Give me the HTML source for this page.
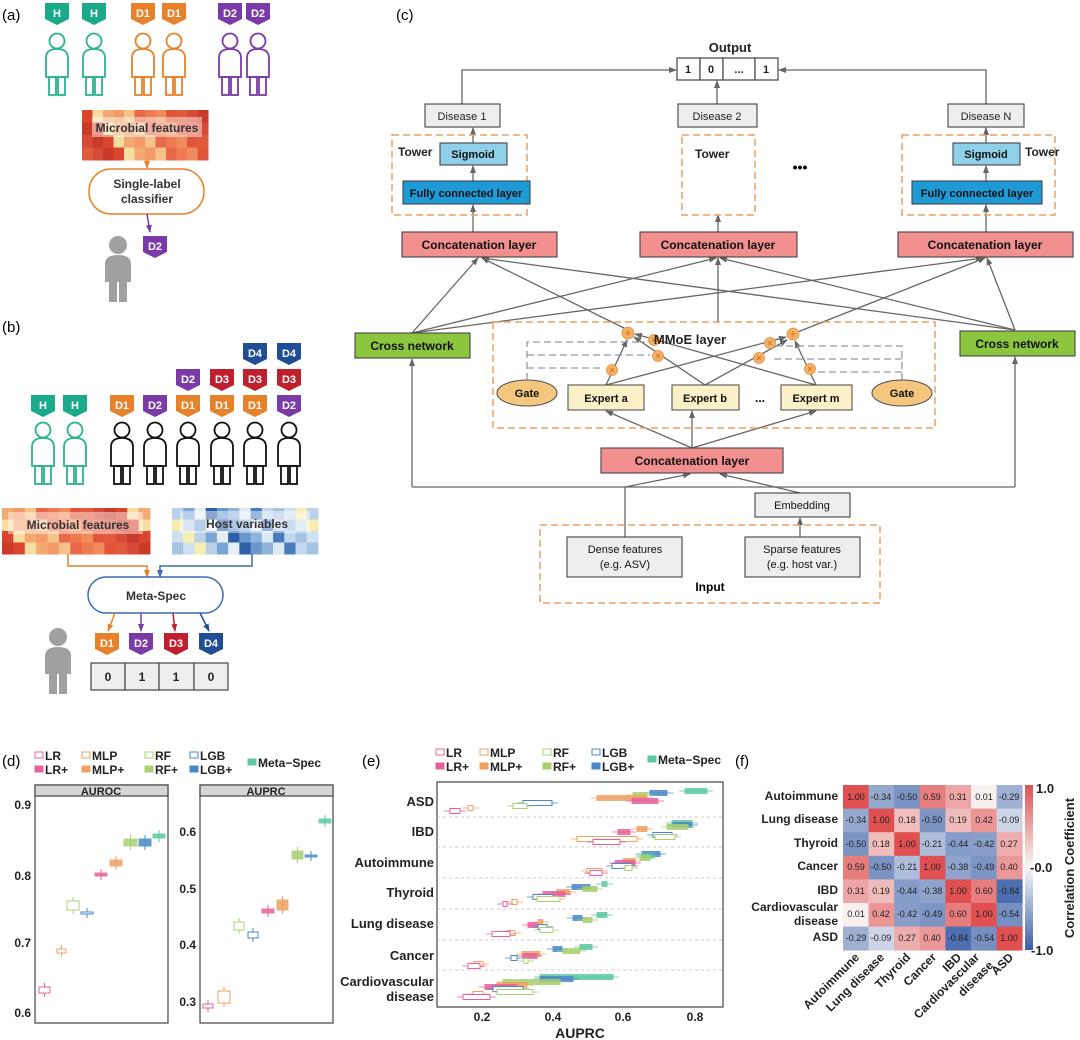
<!DOCTYPE html>
<html><head><meta charset="utf-8"><style>
html,body{margin:0;padding:0;background:#fff}
svg{display:block}
text{font-family:"Liberation Sans",sans-serif}
.b{font-weight:bold}
</style></head><body>
<svg id="s" width="1080" height="1040" viewBox="0 0 1080 1040" xmlns="http://www.w3.org/2000/svg">
<defs>
<path id="tag" d="M0,0H24V16L12,22L0,16Z"/>
<g id="per" fill="none" stroke-width="1.8"><circle cx="0" cy="8" r="7.5"/><path d="M-11,44V25Q-11,16 0,16Q11,16 11,25V44Z"/><rect x="-8" y="44" width="7" height="18"/><rect x="1" y="44" width="7" height="18"/></g>
<g id="gper" fill="#a0a0a0"><circle cx="0" cy="9" r="9"/><path d="M-13,46V28Q-13,19 0,19Q13,19 13,28V46Z"/><rect x="-9" y="46" width="8" height="20"/><rect x="1" y="46" width="8" height="20"/></g>
<marker id="ar" markerWidth="8" markerHeight="8" refX="7" refY="4" orient="auto" markerUnits="userSpaceOnUse"><path d="M0,1L8,4L0,7Z" fill="#666"/></marker>
<marker id="ao" markerWidth="8" markerHeight="8" refX="7" refY="4" orient="auto" markerUnits="userSpaceOnUse"><path d="M0,1L8,4L0,7Z" fill="#e8822a"/></marker>
<marker id="ab" markerWidth="8" markerHeight="8" refX="7" refY="4" orient="auto" markerUnits="userSpaceOnUse"><path d="M0,1L8,4L0,7Z" fill="#3a6bb0"/></marker>
<marker id="ap" markerWidth="8" markerHeight="8" refX="7" refY="4" orient="auto" markerUnits="userSpaceOnUse"><path d="M0,1L8,4L0,7Z" fill="#7a3aa8"/></marker>
<marker id="ard" markerWidth="8" markerHeight="8" refX="7" refY="4" orient="auto" markerUnits="userSpaceOnUse"><path d="M0,1L8,4L0,7Z" fill="#c0202e"/></marker>
<marker id="abl" markerWidth="8" markerHeight="8" refX="7" refY="4" orient="auto" markerUnits="userSpaceOnUse"><path d="M0,1L8,4L0,7Z" fill="#1f4e96"/></marker>
</defs>

<!-- (a) -->
<text x="2" y="20" font-size="15">(a)</text>
<g font-size="11" class="b" fill="#fff" text-anchor="middle">
<use href="#tag" x="45" y="3" fill="#1aaa8a"/><text x="57" y="17">H</text>
<use href="#tag" x="82" y="3" fill="#1aaa8a"/><text x="94" y="17">H</text>
<use href="#tag" x="131" y="3" fill="#e8822a"/><text x="143" y="17">D1</text>
<use href="#tag" x="162" y="3" fill="#e8822a"/><text x="174" y="17">D1</text>
<use href="#tag" x="218" y="3" fill="#7a3aa8"/><text x="230" y="17">D2</text>
<use href="#tag" x="246" y="3" fill="#7a3aa8"/><text x="258" y="17">D2</text>
</g>
<use href="#per" x="57" y="33" stroke="#2bb391"/><use href="#per" x="94" y="33" stroke="#2bb391"/>
<use href="#per" x="143" y="33" stroke="#e8822a"/><use href="#per" x="174" y="33" stroke="#e8822a"/>
<use href="#per" x="230" y="33" stroke="#7a3aa8"/><use href="#per" x="258" y="33" stroke="#7a3aa8"/>
<g id="hmA"></g>
<rect x="92" y="117" width="110" height="20" fill="#fff" opacity="0.45"/>
<text x="147" y="132" font-size="12" class="b" text-anchor="middle" fill="#333">Microbial features</text>
<line x1="147" y1="160" x2="147" y2="168" stroke="#e8822a" stroke-width="1.5" marker-end="url(#ao)"/>
<rect x="89" y="169" width="115" height="45" rx="22" fill="#fff" stroke="#e8822a" stroke-width="1.5"/>
<text x="147" y="188" font-size="12" class="b" text-anchor="middle" fill="#333">Single-label</text>
<text x="147" y="203" font-size="12" class="b" text-anchor="middle" fill="#333">classifier</text>
<line x1="147" y1="214" x2="150" y2="232" stroke="#7a3aa8" stroke-width="1.5" marker-end="url(#ap)"/>
<use href="#tag" x="143" y="236" fill="#7a3aa8"/><text x="155" y="250" font-size="11" class="b" fill="#fff" text-anchor="middle">D2</text>
<use href="#gper" x="118" y="236"/>

<!-- (b) -->
<text x="2" y="332" font-size="15">(b)</text>
<g font-size="11" class="b" fill="#fff" text-anchor="middle">
<use href="#tag" x="243" y="343" fill="#1f4e96"/><text x="255" y="357">D4</text>
<use href="#tag" x="277" y="343" fill="#1f4e96"/><text x="289" y="357">D4</text>
<use href="#tag" x="176" y="369" fill="#7a3aa8"/><text x="188" y="383">D2</text>
<use href="#tag" x="210" y="369" fill="#c0202e"/><text x="222" y="383">D3</text>
<use href="#tag" x="243" y="369" fill="#c0202e"/><text x="255" y="383">D3</text>
<use href="#tag" x="277" y="369" fill="#c0202e"/><text x="289" y="383">D3</text>
<use href="#tag" x="31" y="395" fill="#1aaa8a"/><text x="43" y="409">H</text>
<use href="#tag" x="63" y="395" fill="#1aaa8a"/><text x="75" y="409">H</text>
<use href="#tag" x="110" y="395" fill="#e8822a"/><text x="122" y="409">D1</text>
<use href="#tag" x="143" y="395" fill="#7a3aa8"/><text x="155" y="409">D2</text>
<use href="#tag" x="176" y="395" fill="#e8822a"/><text x="188" y="409">D1</text>
<use href="#tag" x="210" y="395" fill="#e8822a"/><text x="222" y="409">D1</text>
<use href="#tag" x="243" y="395" fill="#e8822a"/><text x="255" y="409">D1</text>
<use href="#tag" x="277" y="395" fill="#7a3aa8"/><text x="289" y="409">D2</text>
</g>
<use href="#per" x="43" y="422" stroke="#2bb391"/><use href="#per" x="75" y="422" stroke="#2bb391"/>
<use href="#per" x="122" y="422" stroke="#111"/><use href="#per" x="155" y="422" stroke="#111"/>
<use href="#per" x="188" y="422" stroke="#111"/><use href="#per" x="222" y="422" stroke="#111"/>
<use href="#per" x="255" y="422" stroke="#111"/><use href="#per" x="289" y="422" stroke="#111"/>
<g id="hmB"></g><g id="hmC"></g>
<rect x="8" y="512" width="135" height="22" fill="#fff" opacity="0.45"/>
<text x="78" y="529" font-size="12" class="b" text-anchor="middle" fill="#333">Microbial features</text>
<rect x="180" y="511" width="130" height="22" fill="#fff" opacity="0.45"/>
<text x="247" y="528" font-size="12" class="b" text-anchor="middle" fill="#333">Host variables</text>
<path d="M68,554V566H147V577" fill="none" stroke="#e8822a" stroke-width="1.5" marker-end="url(#ao)"/>
<path d="M252,554V566H160V577" fill="none" stroke="#3a6bb0" stroke-width="1.5" marker-end="url(#ab)"/>
<rect x="88" y="577" width="135" height="36" rx="18" fill="#fff" stroke="#3a6bb0" stroke-width="1.5"/>
<text x="156" y="600" font-size="12" class="b" text-anchor="middle" fill="#333">Meta-Spec</text>
<line x1="115" y1="613" x2="108" y2="631" stroke="#e8822a" stroke-width="1.5" marker-end="url(#ao)"/>
<line x1="141" y1="613" x2="141" y2="631" stroke="#7a3aa8" stroke-width="1.5" marker-end="url(#ap)"/>
<line x1="173" y1="613" x2="175" y2="631" stroke="#c0202e" stroke-width="1.5" marker-end="url(#ard)"/>
<line x1="200" y1="613" x2="209" y2="631" stroke="#1f4e96" stroke-width="1.5" marker-end="url(#abl)"/>
<g font-size="11" class="b" fill="#fff" text-anchor="middle">
<use href="#tag" x="95" y="633" fill="#e8822a"/><text x="107" y="647">D1</text>
<use href="#tag" x="129" y="633" fill="#7a3aa8"/><text x="141" y="647">D2</text>
<use href="#tag" x="164" y="633" fill="#c0202e"/><text x="176" y="647">D3</text>
<use href="#tag" x="199" y="633" fill="#1f4e96"/><text x="211" y="647">D4</text>
</g>
<g fill="#eee" stroke="#444" stroke-width="1.2"><rect x="91" y="663" width="34" height="27"/><rect x="125" y="663" width="34" height="27"/><rect x="159" y="663" width="35" height="27"/><rect x="194" y="663" width="34" height="27"/></g>
<g font-size="12" class="b" text-anchor="middle" fill="#222"><text x="108" y="681">0</text><text x="142" y="681">1</text><text x="176" y="681">1</text><text x="211" y="681">0</text></g>
<use href="#gper" x="58" y="628"/>

<!-- (c) -->
<text x="396" y="20" font-size="15">(c)</text>
<g stroke="#666" stroke-width="1.3" fill="none">
<path d="M462,104V70H676" marker-end="url(#ar)"/>
<path d="M986,104V70H779" marker-end="url(#ar)"/>
<path d="M717,104V81" marker-end="url(#ar)"/>
<path d="M473,143V128" marker-end="url(#ar)"/>
<path d="M986,143V128" marker-end="url(#ar)"/>
<path d="M473,181V166" marker-end="url(#ar)"/>
<path d="M986,181V166" marker-end="url(#ar)"/>
<path d="M473,232V205" marker-end="url(#ar)"/>
<path d="M986,232V205" marker-end="url(#ar)"/>
<path d="M718,232V215" marker-end="url(#ar)"/>
<path d="M412,333L478,258" marker-end="url(#ar)"/>
<path d="M412,333L716,258" marker-end="url(#ar)"/>
<path d="M412,333L983,258" marker-end="url(#ar)"/>
<path d="M1015,330L482,258" marker-end="url(#ar)"/>
<path d="M1015,330L720,258" marker-end="url(#ar)"/>
<path d="M1015,330L987,258" marker-end="url(#ar)"/>
<path d="M628,330L482,258" marker-end="url(#ar)"/>
<path d="M718,322V258" marker-end="url(#ar)"/>
<path d="M795,333L985,258" marker-end="url(#ar)"/>
<path d="M412,487V359" marker-end="url(#ar)"/>
<path d="M1015,487V357" marker-end="url(#ar)"/>
<path d="M412,487H1015"/>
<path d="M625,537V487"/>
<path d="M625,487L690,474" marker-end="url(#ar)"/>
<path d="M800,537V518" marker-end="url(#ar)"/>
<path d="M800,493L720,474" marker-end="url(#ar)"/>
<path d="M692,448L606,411" marker-end="url(#ar)"/>
<path d="M692,448V411" marker-end="url(#ar)"/>
<path d="M692,448L816,411" marker-end="url(#ar)"/>
<path d="M606,385L627,340" marker-end="url(#ar)"/>
<path d="M705,385L634,337" marker-end="url(#ar)"/>
<path d="M816,385L635,334" marker-end="url(#ar)"/>
<path d="M606,385L786,337" marker-end="url(#ar)"/>
<path d="M705,385L787,340" marker-end="url(#ar)"/>
<path d="M816,385L795,341" marker-end="url(#ar)"/>
</g>
<g stroke="#999" stroke-width="1.3" fill="none" stroke-dasharray="7,4">
<path d="M527,380V342H645"/><path d="M527,355H650"/><path d="M527,368H604"/>
<path d="M902,380V346H775"/><path d="M902,359H770"/><path d="M902,372H818"/>
</g>
<g stroke="#e8a060" stroke-width="1.5" fill="none" stroke-dasharray="7,4">
<rect x="392" y="135" width="135" height="80"/><rect x="682" y="135" width="73" height="80"/><rect x="902" y="135" width="153" height="80"/>
<rect x="493" y="322" width="442" height="106"/><rect x="540" y="525" width="340" height="78"/>
</g>
<g fill="#f5b066" stroke="#e09040" stroke-width="0.8">
<circle cx="628" cy="333" r="6"/><circle cx="793" cy="334" r="6"/>
<circle cx="612" cy="370" r="5.5"/><circle cx="654" cy="340" r="5.5"/><circle cx="658" cy="356" r="5.5"/>
<circle cx="770" cy="343" r="5.5"/><circle cx="759" cy="358" r="5.5"/><circle cx="810" cy="369" r="5.5"/>
</g>
<g stroke="#c07020" stroke-width="0.8"><path d="M625,333h6M628,330v6M790,334h6M793,331v6M610,368l4,4M614,368l-4,4M652,338l4,4M656,338l-4,4M656,354l4,4M660,354l-4,4M768,341l4,4M772,341l-4,4M757,356l4,4M761,356l-4,4M808,367l4,4M812,367l-4,4"/></g>
<text x="730" y="52" font-size="13" class="b" text-anchor="middle" fill="#222">Output</text>
<g fill="#fff" stroke="#444" stroke-width="1.2"><rect x="677" y="58" width="23" height="22"/><rect x="700" y="58" width="23" height="22"/><rect x="723" y="58" width="32" height="22"/><rect x="755" y="58" width="23" height="22"/></g>
<g font-size="11" class="b" text-anchor="middle" fill="#222"><text x="688" y="73">1</text><text x="711" y="73">0</text><text x="739" y="73">...</text><text x="766" y="73">1</text></g>
<g fill="#eee" stroke="#444" stroke-width="1.1"><rect x="425" y="104" width="75" height="23"/><rect x="678" y="104" width="79" height="23"/><rect x="948" y="104" width="76" height="23"/></g>
<g font-size="11" text-anchor="middle" fill="#222"><text x="462" y="120">Disease 1</text><text x="717" y="120">Disease 2</text><text x="986" y="120">Disease N</text></g>
<g font-size="12" class="b" fill="#222"><text x="398" y="156">Tower</text><text x="695" y="158">Tower</text><text x="1025" y="156">Tower</text></g>
<text x="800" y="172" font-size="14" class="b" text-anchor="middle">•••</text>
<g fill="#8fcfe8" stroke="#444" stroke-width="1.1"><rect x="440" y="143" width="67" height="22"/><rect x="953" y="143" width="67" height="22"/></g>
<g fill="#1e9bd7" stroke="#444" stroke-width="1.1"><rect x="403" y="181" width="127" height="23"/><rect x="912" y="181" width="130" height="23"/></g>
<g font-size="11" class="b" text-anchor="middle" fill="#111"><text x="473" y="158">Sigmoid</text><text x="986" y="158">Sigmoid</text><text x="466" y="197">Fully connected layer</text><text x="977" y="197">Fully connected layer</text></g>
<g fill="#f28f8f" stroke="#444" stroke-width="1.1"><rect x="402" y="232" width="155" height="25"/><rect x="640" y="232" width="157" height="25"/><rect x="898" y="232" width="175" height="25"/><rect x="601" y="448" width="182" height="25"/></g>
<g font-size="12" class="b" text-anchor="middle" fill="#111"><text x="479" y="249">Concatenation  layer</text><text x="718" y="249">Concatenation  layer</text><text x="985" y="249">Concatenation  layer</text><text x="692" y="465">Concatenation  layer</text></g>
<g fill="#8cc63f" stroke="#444" stroke-width="1.1"><rect x="355" y="333" width="115" height="25"/><rect x="960" y="331" width="115" height="25"/></g>
<g font-size="12" class="b" text-anchor="middle" fill="#111"><text x="412" y="350">Cross network</text><text x="1017" y="348">Cross network</text></g>
<text x="690" y="344" font-size="13" class="b" text-anchor="middle" fill="#222">MMoE layer</text>
<g fill="#f5c77e" stroke="#555" stroke-width="1.1"><ellipse cx="527" cy="393" rx="30" ry="13"/><ellipse cx="902" cy="393" rx="30" ry="13"/></g>
<g fill="#fbf0c8" stroke="#555" stroke-width="1.1"><rect x="568" y="385" width="76" height="25"/><rect x="672" y="385" width="67" height="25"/><rect x="781" y="385" width="71" height="25"/></g>
<g font-size="11" class="b" text-anchor="middle" fill="#111"><text x="527" y="397">Gate</text><text x="902" y="397">Gate</text><text x="606" y="402">Expert a</text><text x="705" y="402">Expert b</text><text x="816" y="402">Expert m</text></g>
<text x="760" y="402" font-size="12" class="b" text-anchor="middle">...</text>
<g fill="#eee" stroke="#444" stroke-width="1.1"><rect x="755" y="493" width="95" height="24"/><rect x="567" y="537" width="115" height="40"/><rect x="745" y="537" width="115" height="40"/></g>
<g font-size="11" text-anchor="middle" fill="#111"><text x="802" y="509">Embedding</text><text x="625" y="553">Dense features</text><text x="625" y="568">(e.g. ASV)</text><text x="802" y="553">Sparse features</text><text x="802" y="568">(e.g. host var.)</text></g>
<text x="710" y="591" font-size="12" class="b" text-anchor="middle">Input</text>

<!-- (d) -->
<text x="2" y="766" font-size="15">(d)</text>
<g id="legd"></g>
<g font-size="12" class="b" fill="#222">
<text x="45" y="760">LR</text><text x="45" y="774">LR+</text>
<text x="92" y="760">MLP</text><text x="92" y="774">MLP+</text>
<text x="155" y="760">RF</text><text x="155" y="774">RF+</text>
<text x="200" y="760">LGB</text><text x="200" y="774">LGB+</text>
<text x="258" y="767">Meta−Spec</text>
</g>
<rect x="35" y="785" width="133" height="238" fill="#fff" stroke="#444" stroke-width="1.2"/>
<rect x="35" y="785" width="133" height="11" fill="#d6d6d6" stroke="#444" stroke-width="1.2"/>
<rect x="200" y="785" width="133" height="238" fill="#fff" stroke="#444" stroke-width="1.2"/>
<rect x="200" y="785" width="133" height="11" fill="#d6d6d6" stroke="#444" stroke-width="1.2"/>
<g font-size="11" class="b" text-anchor="middle" fill="#222"><text x="101" y="795">AUROC</text><text x="266" y="795">AUPRC</text></g>
<g font-size="12" class="b" text-anchor="end" fill="#222">
<text x="31" y="809">0.9</text><text x="31" y="880">0.8</text><text x="31" y="947">0.7</text><text x="31" y="1017">0.6</text>
<text x="196" y="836">0.6</text><text x="196" y="893">0.5</text><text x="196" y="949">0.4</text><text x="196" y="1006">0.3</text>
</g>
<g id="dbox"></g>

<!-- (e) -->
<text x="362" y="766" font-size="15">(e)</text>
<g font-size="12" class="b" fill="#222">
<text x="446" y="757">LR</text><text x="446" y="771">LR+</text>
<text x="490" y="757">MLP</text><text x="490" y="771">MLP+</text>
<text x="553" y="757">RF</text><text x="553" y="771">RF+</text>
<text x="602" y="757">LGB</text><text x="602" y="771">LGB+</text>
<text x="658" y="764">Meta−Spec</text>
</g>
<rect x="437" y="782" width="286" height="225" fill="#fff" stroke="#444" stroke-width="1.2"/>
<g stroke="#bbb" stroke-dasharray="3,3" stroke-width="0.8"><path d="M437,817H723M437,847H723M437,878H723M437,909H723M437,940H723M437,970H723"/></g>
<g font-size="13" class="b" text-anchor="end" fill="#222">
<text x="434" y="806">ASD</text><text x="434" y="836">IBD</text><text x="434" y="867">Autoimmune</text><text x="434" y="897">Thyroid</text><text x="434" y="928">Lung disease</text><text x="434" y="960">Cancer</text><text x="434" y="986">Cardiovascular</text><text x="434" y="1001">disease</text>
</g>
<g font-size="12" class="b" text-anchor="middle" fill="#222"><text x="482" y="1021">0.2</text><text x="553" y="1021">0.4</text><text x="623" y="1021">0.6</text><text x="695" y="1021">0.8</text></g>
<text x="580" y="1038" font-size="14" class="b" text-anchor="middle" fill="#222">AUPRC</text>
<g id="ebox"></g>

<!-- (f) -->
<text x="735" y="766" font-size="15">(f)</text>
<g id="fcell"></g>
<g font-size="12" class="b" text-anchor="end" fill="#222">
<text x="838" y="800">Autoimmune</text><text x="838" y="823">Lung disease</text><text x="838" y="847">Thyroid</text><text x="838" y="870">Cancer</text><text x="838" y="894">IBD</text><text x="838" y="911">Cardiovascular</text><text x="838" y="925">disease</text><text x="838" y="941">ASD</text>
</g>
<g font-size="9" text-anchor="middle" fill="#222" id="fvals">
<text x="856" y="800">1.00</text><text x="881" y="800">-0.34</text><text x="907" y="800">-0.50</text><text x="932" y="800">0.59</text><text x="958" y="800">0.31</text><text x="984" y="800">0.01</text><text x="1009" y="800">-0.29</text>
<text x="856" y="823">-0.34</text><text x="881" y="823">1.00</text><text x="907" y="823">0.18</text><text x="932" y="823">-0.50</text><text x="958" y="823">0.19</text><text x="984" y="823">0.42</text><text x="1009" y="823">-0.09</text>
<text x="856" y="847">-0.50</text><text x="881" y="847">0.18</text><text x="907" y="847">1.00</text><text x="932" y="847">-0.21</text><text x="958" y="847">-0.44</text><text x="984" y="847">-0.42</text><text x="1009" y="847">0.27</text>
<text x="856" y="870">0.59</text><text x="881" y="870">-0.50</text><text x="907" y="870">-0.21</text><text x="932" y="870">1.00</text><text x="958" y="870">-0.38</text><text x="984" y="870">-0.49</text><text x="1009" y="870">0.40</text>
<text x="856" y="894">0.31</text><text x="881" y="894">0.19</text><text x="907" y="894">-0.44</text><text x="932" y="894">-0.38</text><text x="958" y="894">1.00</text><text x="984" y="894">0.60</text><text x="1009" y="894">-0.84</text>
<text x="856" y="917">0.01</text><text x="881" y="917">0.42</text><text x="907" y="917">-0.42</text><text x="932" y="917">-0.49</text><text x="958" y="917">0.60</text><text x="984" y="917">1.00</text><text x="1009" y="917">-0.54</text>
<text x="856" y="941">-0.29</text><text x="881" y="941">-0.09</text><text x="907" y="941">0.27</text><text x="932" y="941">0.40</text><text x="958" y="941">-0.84</text><text x="984" y="941">-0.54</text><text x="1009" y="941">1.00</text>
</g>
<defs><linearGradient id="cb" x1="0" y1="0" x2="0" y2="1"><stop offset="0" stop-color="#e05050"/><stop offset="0.5" stop-color="#f8f8f8"/><stop offset="1" stop-color="#3a5fa8"/></linearGradient></defs>
<rect x="1025" y="785" width="8" height="165" fill="url(#cb)"/>
<g font-size="13" class="b" fill="#222"><text x="1036" y="793">1.0</text><text x="1030" y="872">-0.0</text><text x="1031" y="955">-1.0</text></g>
<text transform="translate(1074,868) rotate(-90)" font-size="13" class="b" text-anchor="middle" fill="#222">Correlation Coefficient</text>
<g font-size="12" class="b" text-anchor="end" fill="#222">
<text transform="translate(860,958) rotate(-45)">Autoimmune</text>
<text transform="translate(885,958) rotate(-45)">Lung disease</text>
<text transform="translate(911,958) rotate(-45)">Thyroid</text>
<text transform="translate(937,958) rotate(-45)">Cancer</text>
<text transform="translate(962,958) rotate(-45)">IBD</text>
<text transform="translate(980,958) rotate(-45)">Cardiovascular</text>
<text transform="translate(994,966) rotate(-45)">disease</text>
<text transform="translate(1014,958) rotate(-45)">ASD</text>
</g>
</svg>
<script>
(function(){
var NS="http://www.w3.org/2000/svg";
function el(p,t,a){var e=document.createElementNS(NS,t);for(var k in a)e.setAttribute(k,a[k]);document.getElementById(p).appendChild(e);return e;}
var reds=["#e8684a","#d9452e","#f08c5a","#f4a872","#e05a3c","#f6c28a","#c93a2a","#ef7a50","#f9dca0","#e2553a","#f29a68","#d84a38"];
var blues=["#cfe0f0","#8fb4da","#b9d2ea","#4a7cc0","#e4eef8","#a6c4e2","#6a98cc","#f6eeb0","#dceaf6","#7aa6d4","#c2d8ee","#2f5fa8"];
function hm(id,x0,y0,w,h,cols,rows,pal,seed){var cw=w/cols,ch=h/rows;for(var r=0;r<rows;r++)for(var c=0;c<cols;c++){var i=(c*7+r*5+seed)%pal.length;el(id,"rect",{x:x0+c*cw,y:y0+r*ch,width:cw+0.5,height:ch+0.5,fill:pal[i]});}}
hm("hmA",82,110,126,50,12,4,reds,1);
hm("hmB",2,508,148,46,13,4,reds,3);
hm("hmC",172,508,146,46,13,4,blues,2);
var C={LR:"#e8609a",MLP:"#f0a060",RF:"#a8d070",LGB:"#4a88c8",M:"#5cc8a0"};
// legend squares
function lg(p,x,y,c,f){el(p,"rect",{x:x,y:y,width:8,height:6,fill:f?c:"#fff",stroke:c,"stroke-width":1});}
[["LR",35],["MLP",82],["RF",145],["LGB",190]].forEach(function(a){lg("legd",a[1],752,C[a[0]],0);lg("legd",a[1],766,C[a[0]],1);});
lg("legd",248,759,C.M,1);
[["LR",436],["MLP",480],["RF",543],["LGB",592]].forEach(function(a){lg("ebox",a[1],749,C[a[0]],0);lg("ebox",a[1],763,C[a[0]],1);});
lg("ebox",648,756,C.M,1);
// d boxes: [key,filled,x1,x2,y1,y2]
var d=[["LR",0,39,50,987,993],["MLP",0,57,66,949,953],["RF",0,67,79,901,910],["LGB",0,81,93,912,914],["LR",1,95,107,873,876],["MLP",1,110,122,860,866],["RF",1,124,137,839,846],["LGB",1,139,151,839,846],["M",1,153,165,834,838],
["LR",0,203,213,1004,1008],["MLP",0,218,230,991,1003],["RF",0,234,244,922,930],["LGB",0,248,258,932,938],["LR",1,262,274,909,913],["MLP",1,277,288,900,910],["RF",1,292,303,851,859],["LGB",1,305,317,855,857],["M",1,319,331,819,823]];
d.forEach(function(b){var c=C[b[0]];var xm=(b[2]+b[3])/2;el("dbox","line",{x1:xm,x2:xm,y1:b[4]-4,y2:b[5]+4,stroke:c,"stroke-width":1});el("dbox","rect",{x:b[2],y:b[4],width:b[3]-b[2],height:Math.max(2,b[5]-b[4]),fill:b[1]?c:"#fff",stroke:c,"stroke-width":1,opacity:b[1]?0.85:1});});
// e bars [key,filled,x1,x2,y]
var e=[["M",1,685,707,791],["LGB",1,650,667,793],["RF",1,633,647,795],["MLP",1,597,647,798],["LR",1,632,658,801],["LGB",0,523,552,803],["RF",0,513,527,806],["MLP",0,468,473,808],["LR",0,450,460,811],
["M",1,672,692,823],["LGB",1,673,692,825],["RF",1,667,688,827],["MLP",1,637,647,829],["LR",1,618,630,832],["LGB",0,653,672,835],["RF",0,655,675,837],["MLP",0,577,637,839],["LR",0,593,620,842],
["LGB",1,642,660,854],["M",1,642,653,856],["RF",1,640,650,858],["MLP",1,623,635,861],["LR",1,615,635,863],["LGB",0,612,632,866],["RF",0,625,632,868],["MLP",0,587,602,871],["LR",0,590,602,873],
["M",1,602,607,884],["LGB",1,572,590,887],["RF",1,583,597,889],["MLP",1,557,570,892],["LR",1,543,565,894],["LGB",0,533,553,897],["RF",0,537,560,899],["MLP",0,512,517,902],["LR",0,503,507,904],
["M",1,597,607,915],["LGB",1,573,582,918],["RF",1,583,592,920],["MLP",1,538,543,922],["LR",1,528,537,925],["LGB",0,538,547,927],["RF",0,540,553,930],["MLP",0,507,515,933],["LR",0,492,510,934],
["M",1,580,592,947],["LGB",1,553,562,949],["RF",1,563,580,951],["MLP",1,522,540,954],["LR",1,523,537,956],["LGB",0,511,517,958],["RF",0,524,528,961],["MLP",0,474,483,964],["LR",0,468,480,966],
["M",1,540,613,977],["LGB",1,540,573,979],["RF",1,503,560,982],["MLP",1,497,527,985],["LR",1,485,517,987],["LGB",0,493,523,989],["RF",0,497,533,992],["MLP",0,473,483,994],["LR",0,463,490,997]];
e.forEach(function(b){var c=C[b[0]];el("ebox","line",{x1:b[2]-6,x2:b[3]+6,y1:b[4],y2:b[4],stroke:c,"stroke-width":0.8});el("ebox","rect",{x:b[2],y:b[4]-2.5,width:b[3]-b[2],height:5,fill:b[1]?c:"#fff",stroke:c,"stroke-width":1,opacity:b[1]?0.85:1});});
// f cells
var V=[[1,-.34,-.5,.59,.31,.01,-.29],[-.34,1,.18,-.5,.19,.42,-.09],[-.5,.18,1,-.21,-.44,-.42,.27],[.59,-.5,-.21,1,-.38,-.49,.4],[.31,.19,-.44,-.38,1,.6,-.84],[.01,.42,-.42,-.49,.6,1,-.54],[-.29,-.09,.27,.4,-.84,-.54,1]];
function col(v){var t=Math.pow(Math.abs(v),0.6);var w=[250,250,250],r=[224,80,80],b=[58,95,168];var e=v>=0?r:b;return "rgb("+w.map(function(x,i){return Math.round(x+(e[i]-x)*t);}).join(",")+")";}
for(var i=0;i<7;i++)for(var j=0;j<7;j++)el("fcell","rect",{x:843+j*25.6,y:785+i*23.6,width:26,height:24,fill:col(V[i][j])});
})();
</script>
</body></html>
